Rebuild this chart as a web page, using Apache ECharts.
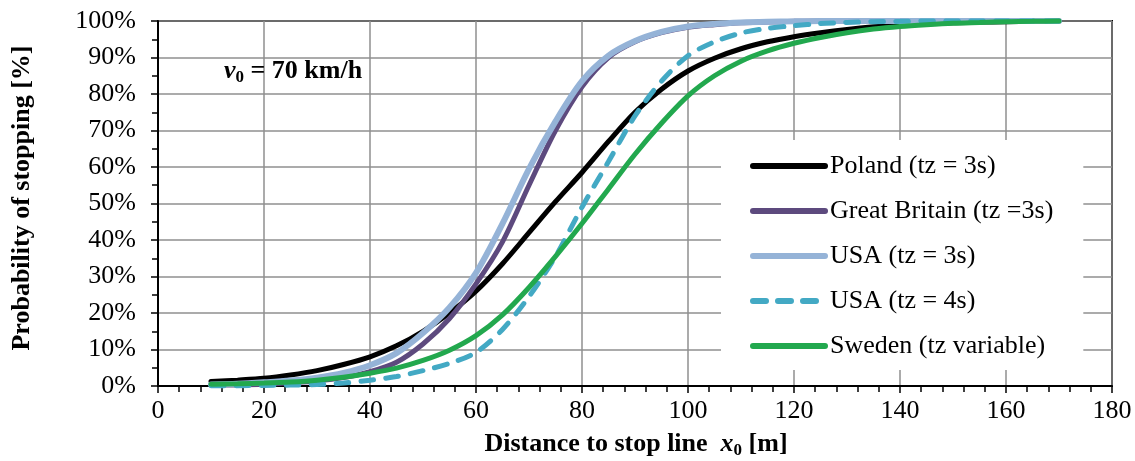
<!DOCTYPE html>
<html>
<head>
<meta charset="utf-8">
<script src="https://cdn.jsdelivr.net/npm/echarts@6/dist/echarts.min.js"></script>
<style>
html,body{margin:0;padding:0;background:#fff;}
#chart{width:1135px;height:461px;}
</style>
</head>
<body>
<div id="chart"></div>
<script>
// Distance to stop line x0 [m]
var distances = [10,15,20,25,30,35,40,45,50,55,60,65,70,75,80,85,90,95,100,105,110,115,120,125,130,135,140,145,150,155,160,165,170];
// Probability of stopping [%]
var poland = [1.2,1.6,2.1,3.0,4.2,5.9,8.0,11.0,15.0,20.0,26.0,33.5,42.0,50.5,58.5,67.0,75.0,81.3,86.3,89.8,92.4,94.3,95.7,96.8,97.7,98.4,98.9,99.3,99.5,99.7,99.8,99.9,100];
var greatBritain = [0.2,0.3,0.5,0.9,1.4,2.3,3.9,6.5,11.5,18.5,28.0,39.5,55.0,70.0,82.0,90.0,94.3,96.8,98.3,99.0,99.5,99.7,99.9,100,100,100,100,100,100,100,100,100,100];
var usa3 = [0.4,0.6,1.0,1.5,2.3,3.6,5.7,9.0,14.5,21.5,31.0,44.5,59.5,72.5,83.5,90.5,94.5,97.0,98.5,99.2,99.6,99.8,99.9,100,100,100,100,100,100,100,100,100,100];
var usa4 = [0.05,0.1,0.15,0.25,0.4,0.8,1.6,2.6,4.2,6.2,9.2,15.5,24.5,35.5,49.0,61.5,74.0,83.5,90.5,94.3,96.7,98.0,98.7,99.3,99.6,99.8,99.9,100,100,100,100,100,100];
var sweden = [0.5,0.6,0.8,1.1,1.6,2.4,3.5,4.9,7.0,9.8,13.8,19.5,27.0,35.5,44.5,54.0,63.5,72.0,79.5,85.0,89.0,91.8,93.9,95.5,96.8,97.8,98.5,99.0,99.4,99.6,99.8,99.9,100];

var seriesNames = ['Poland (tz = 3s)','Great Britain (tz =3s)','USA (tz = 3s)','USA (tz = 4s)','Sweden (tz variable)'];
var seriesValues = [poland, greatBritain, usa3, usa4, sweden];
var seriesColors = ['#000000','#5d4a7e','#95b3d7','#43a9c4','#22a84e'];
var seriesWidths = [5,5,6,5,5];
var seriesDash = ['solid','solid','solid',[13,12],'solid'];

var FONT = 'Liberation Serif';

function pairs(vals){
  return distances.map(function(d,i){ return [d, vals[i]]; });
}

var series = seriesNames.map(function(n,k){
  return {
    name: n,
    type: 'line',
    data: pairs(seriesValues[k]),
    smooth: 0.3,
    symbol: 'none',
    showSymbol: false,
    clip: false,
    color: seriesColors[k],
    lineStyle: {color: seriesColors[k], width: seriesWidths[k], type: seriesDash[k], cap: 'round'},
    z: 3 + k
  };
});

var legendData = seriesNames.map(function(n,k){
  return {
    name: n,
    itemStyle: {opacity: 0},
    lineStyle: {color: seriesColors[k], width: 6, type: seriesDash[k], cap: 'round'}
  };
});

var chart = echarts.init(document.getElementById('chart'), null, {renderer:'canvas'});
chart.setOption({
  animation: false,
  backgroundColor: '#fff',
  grid: {left:158, right:23, top:21, bottom:75, show:true, borderColor:'#000', borderWidth:2, backgroundColor:'rgba(0,0,0,0)'},
  xAxis: {
    type: 'value', min: 0, max: 180, interval: 20,
    axisLine: {show:true, lineStyle:{color:'#000', width:2}},
    axisTick: {show:true, length:7, lineStyle:{color:'#000', width:1.5}},
    minorTick: {show:true, splitNumber:5, length:6, lineStyle:{color:'#000', width:1.5}},
    splitLine: {show:true, lineStyle:{color:'#8f8f8f', width:1.5}},
    axisLabel: {fontSize:26, fontFamily:FONT, color:'#000', margin:12}
  },
  yAxis: {
    type: 'value', min: 0, max: 100, interval: 10,
    axisLine: {show:true, lineStyle:{color:'#000', width:2}},
    axisTick: {show:true, length:7, lineStyle:{color:'#000', width:1.5}},
    minorTick: {show:true, splitNumber:2, length:6, lineStyle:{color:'#000', width:1.5}},
    splitLine: {show:true, lineStyle:{color:'#8f8f8f', width:1.5}},
    axisLabel: {fontSize:26, fontFamily:FONT, color:'#000', margin:22, formatter:'{value}%'}
  },
  legend: {
    orient: 'vertical',
    left: 721, top: 140,
    backgroundColor: '#fff',
    padding: [13, 30, 11, 29],
    itemWidth: 72, itemHeight: 14, itemGap: 19,
    itemStyle: {opacity: 0},
    textStyle: {fontSize:26, fontFamily:FONT, color:'#000', lineHeight:26},
    data: legendData
  },
  graphic: [
    {type:'text', x:22, y:198, rotation:Math.PI/2, z:10,
     style:{text:'Probability of stopping [%]', fontSize:26, fontWeight:'bold', fontFamily:FONT, fill:'#000', align:'center', verticalAlign:'middle'}},
    {type:'text', x:636, y:444, z:10,
     style:{text:'{b|Distance to stop line  }{i|x}{s|0}{b| [m]}', align:'center', verticalAlign:'middle',
       rich:{
         b:{fontSize:26, fontWeight:'bold', fontFamily:FONT, fill:'#000', lineHeight:30},
         i:{fontSize:26, fontWeight:'bold', fontStyle:'italic', fontFamily:FONT, fill:'#000', lineHeight:30},
         s:{fontSize:17, fontWeight:'bold', fontFamily:FONT, fill:'#000', lineHeight:14, verticalAlign:'bottom'}
       }}},
    {type:'text', x:224, y:71, z:10,
     style:{text:'{i|v}{s|0}{b| = 70 km/h}', align:'left', verticalAlign:'middle',
       rich:{
         b:{fontSize:26, fontWeight:'bold', fontFamily:FONT, fill:'#000', lineHeight:30},
         i:{fontSize:26, fontWeight:'bold', fontStyle:'italic', fontFamily:FONT, fill:'#000', lineHeight:30},
         s:{fontSize:17, fontWeight:'bold', fontFamily:FONT, fill:'#000', lineHeight:14, verticalAlign:'bottom'}
       }}}
  ],
  series: series
});
</script>
</body>
</html>
